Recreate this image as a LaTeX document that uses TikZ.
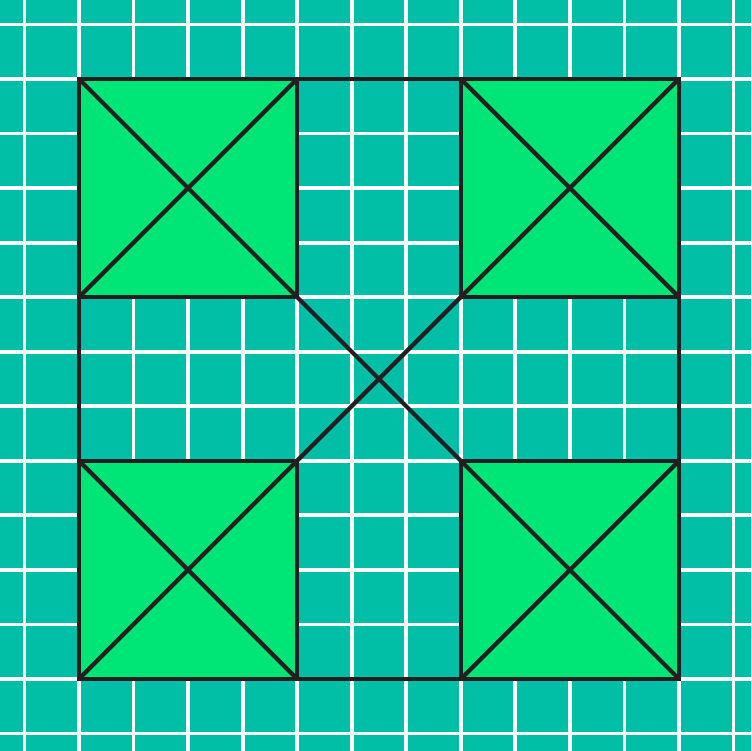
\documentclass[tikz,border=0pt]{standalone}
\usepackage{xcolor}
\usepackage{tikz}
\definecolor{fondo}{HTML}{00BFA6}
\definecolor{verde}{HTML}{00E676}
\definecolor{nero}{HTML}{231F20}

\begin{document}
\begin{tikzpicture}[line join=miter,
            linea/.style={color=nero, line width=2.2pt}]
        % Dimensioni: lato=11, quadrato piccolo=4
        \def\L{11} \def\s{4}
        \def\xa{-1.448} \def\xb{12.32} \def\ya{-1.32} \def\yb{12.448}

        \coordinate (SW) at (0,0);
        \coordinate (SE) at (\L,0);
        \coordinate (NE) at (\L,\L);
        \coordinate (NW) at (0,\L);
        \coordinate (A) at (\s,\s);
        \coordinate (B) at (\L-\s,\s);
        \coordinate (C) at (\L-\s,\L-\s);
        \coordinate (D) at (\s,\L-\s);

        % Sfondo e griglia
        \fill[fondo] (\xa,\ya) rectangle (\xb,\yb);
        \useasboundingbox (\xa,\ya) rectangle (\xb,\yb);
        \foreach \k in {-1,...,12}{
                \draw[white, line width=2pt] (\k,\ya) -- (\k,\yb);
                \draw[white, line width=2pt] (\xa,\k) -- (\xb,\k);
            }

        % Quadrati piccoli
        \foreach \x/\y in {0/0, 7/0, 0/7, 7/7}{
                \fill[verde] (\x,\y) rectangle ++(\s,\s);
                \draw[linea] (\x,\y) -- ++(\s,\s);
                \draw[linea] (\x,\y+\s) -- ++(\s,-\s);
                \draw[linea] (\x,\y) rectangle ++(\s,\s);
            }

        % Quadrato grande e diagonali centrali
        \draw[linea] (A) -- (C);
        \draw[linea] (D) -- (B);
        \draw[linea] (SW) -- (SE) -- (NE) -- (NW) -- cycle;
    \end{tikzpicture}
\end{document}
